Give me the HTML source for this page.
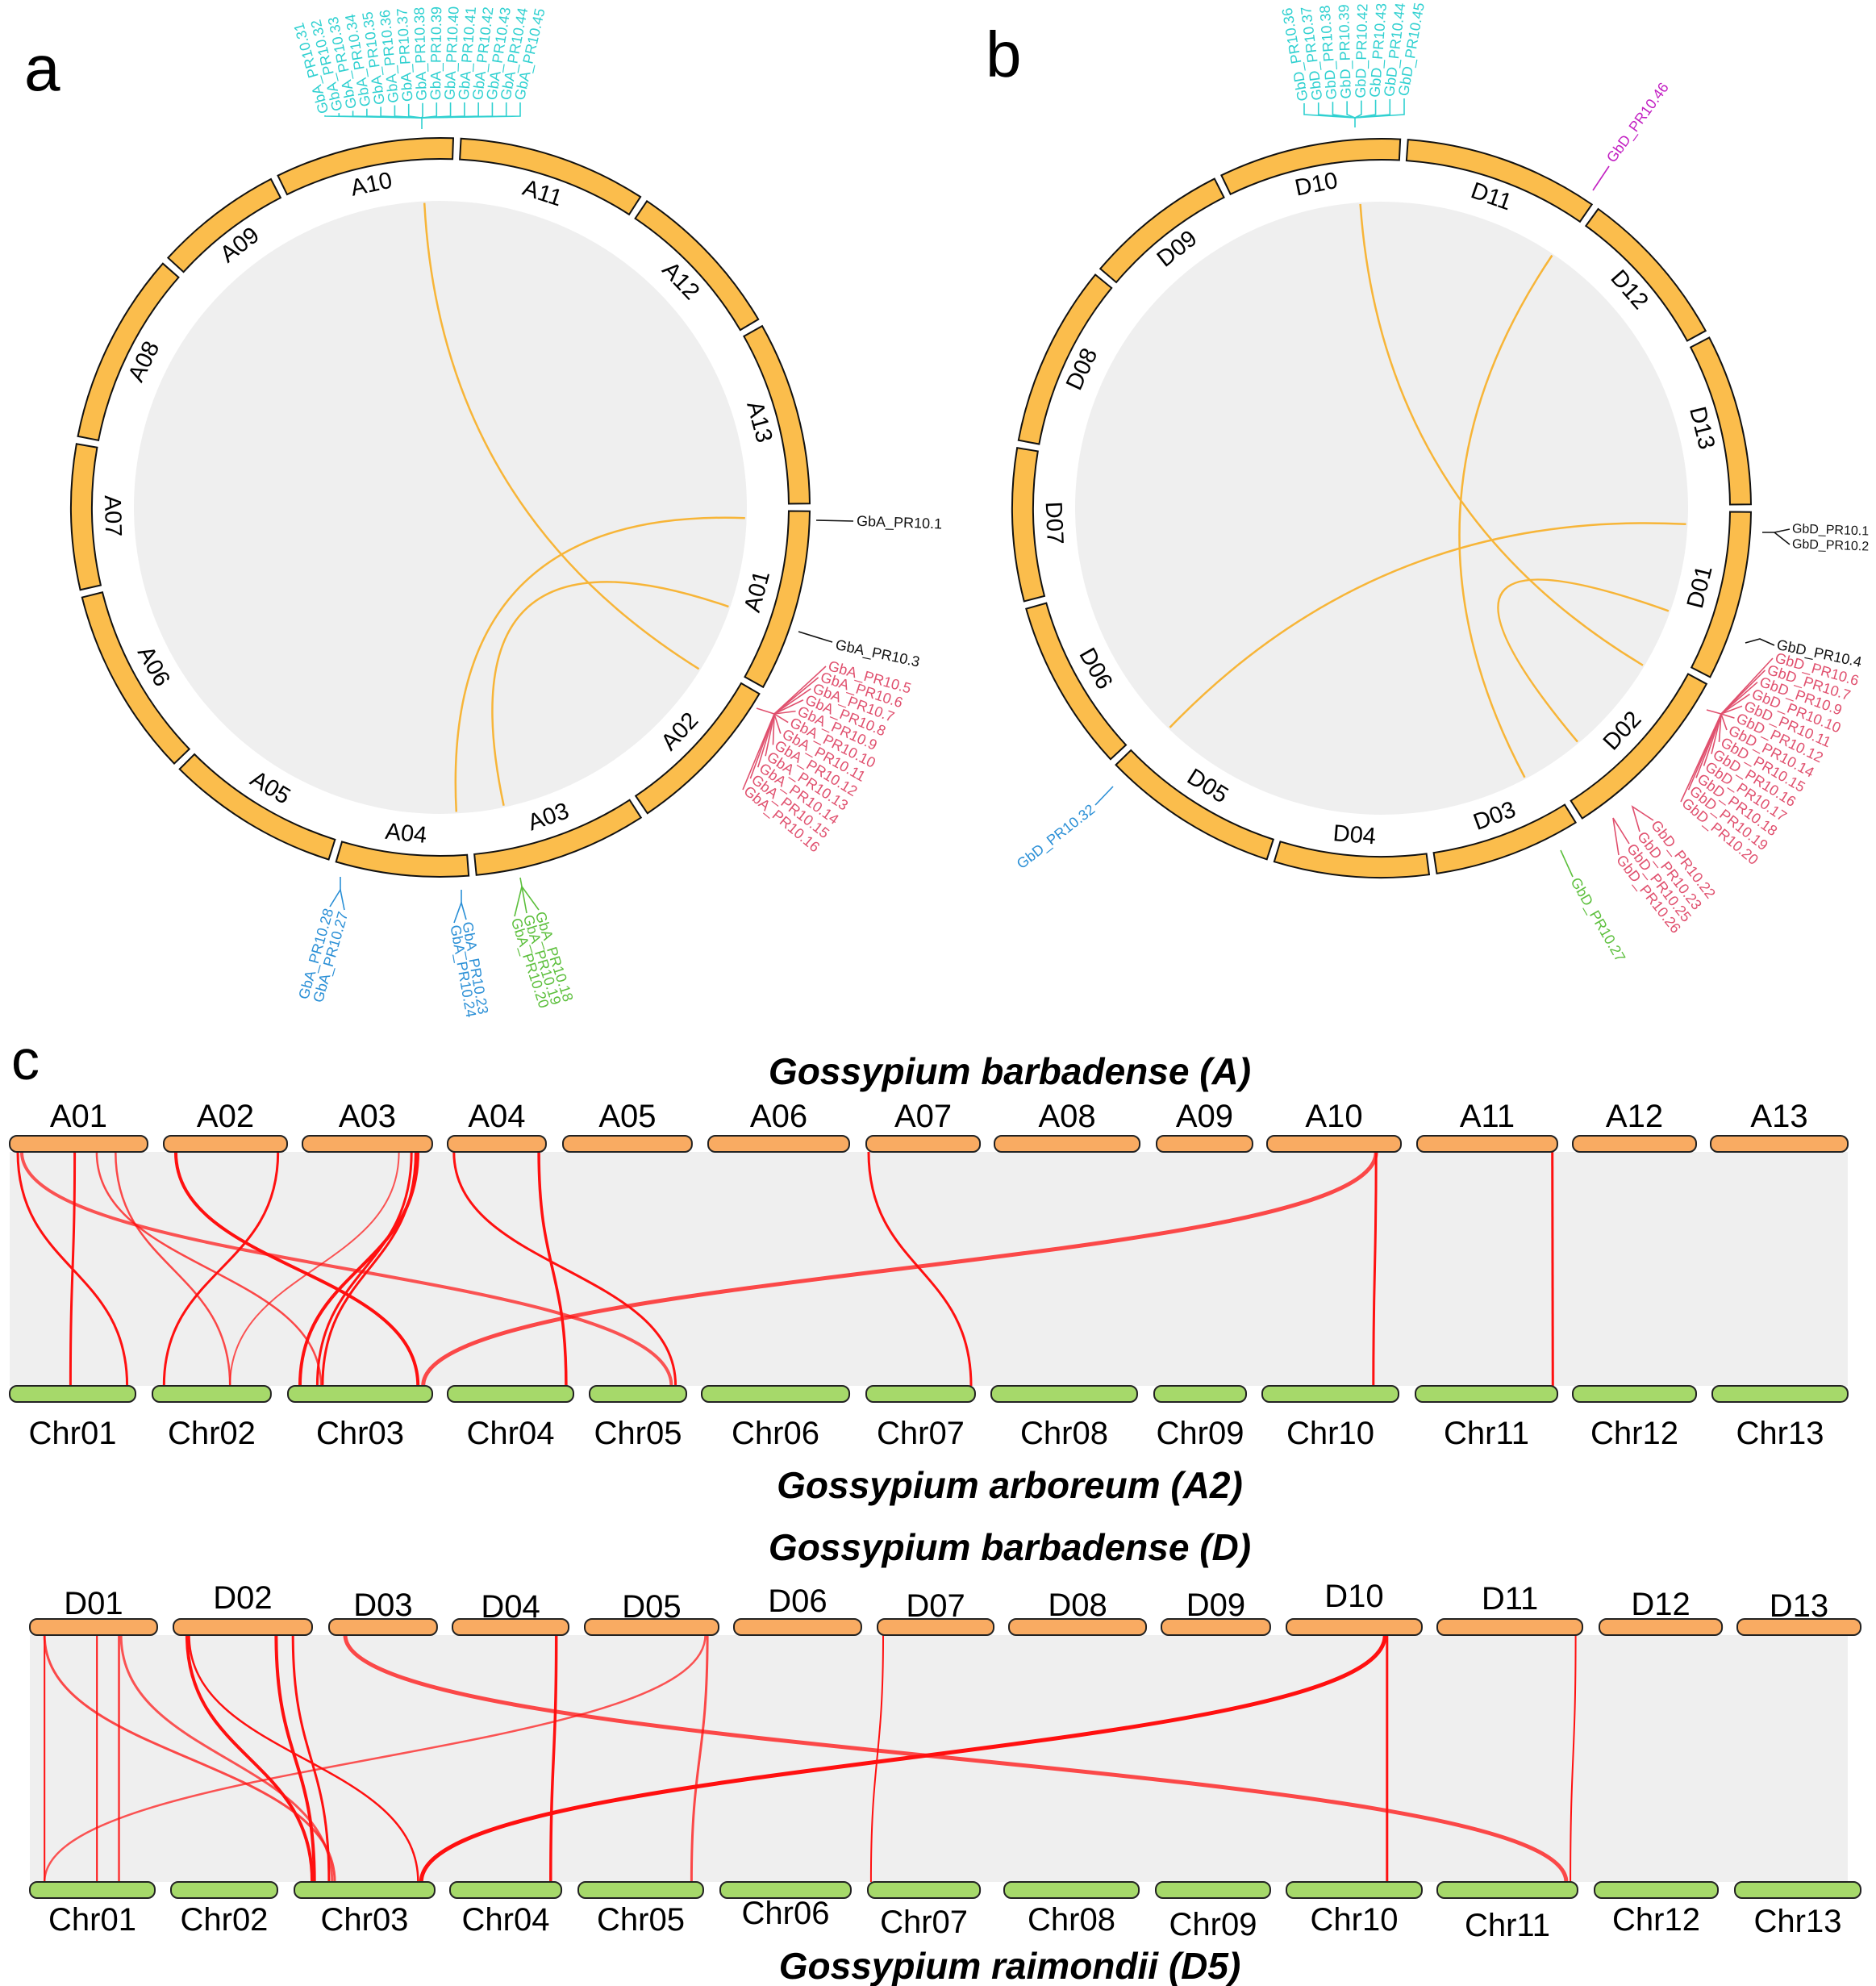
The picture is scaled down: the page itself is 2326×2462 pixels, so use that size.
<!DOCTYPE html>
<html><head><meta charset="utf-8"><style>
html,body{margin:0;padding:0;background:#fff;}
svg{display:block;font-family:"Liberation Sans",Arial,sans-serif;}
</style></head><body>
<svg id="fig" width="2326" height="2462" viewBox="0 0 2326 2462" xmlns="http://www.w3.org/2000/svg">
<rect width="2326" height="2462" fill="#fff"/>
<text x="30" y="112" font-size="80">a</text>
<text x="1222" y="95" font-size="80">b</text>
<text x="14" y="1338" font-size="70">c</text>
<g id="genes" font-size="18"></g>
</svg>
<script>
const NS='http://www.w3.org/2000/svg';
const svg=document.getElementById('fig');
const genes=document.getElementById('genes');
function mk(tag,attrs,parent){const e=document.createElementNS(NS,tag);for(const k in attrs)e.setAttribute(k,attrs[k]);(parent||svg).appendChild(e);return e;}

/* ---------- circle data ---------- */
const chrNamesA=['A01','A02','A03','A04','A05','A06','A07','A08','A09','A10','A11','A12','A13'];
const chrBoundsA=[0,29.7,56.5,85,107,135.5,166.5,190.5,221.9,243.3,272.6,303.4,330,360];
const linksA=[[267,32],[2,87],[19,78]];
const chrNamesB=['D01','D02','D03','D04','D05','D06','D07','D08','D09','D10','D11','D12','D13'];
const chrBoundsB=[0,27.8,57.7,82,107.5,136.6,164.8,190,219.8,243.7,273.5,305.3,331.9,360];
const linksB=[[266,31],[304,62],[3,134],[19.7,50]];

function P(cx,cy,r,a){const t=a*Math.PI/180;return [cx+r*Math.cos(t),cy+r*Math.sin(t)];}
function drawCircle(cx,cy,names,bounds,links,tag){
  const g=mk('g',{});
  
  
  const disc=mk('circle',{cx:cx,cy:cy,r:380,fill:'#efefef'},g);
  
  
  links.forEach((l,i)=>{
    const p1=P(cx,cy,378,l[0]),p2=P(cx,cy,378,l[1]);
    const p=mk('path',{d:`M${p1[0]},${p1[1]} Q${cx},${cy} ${p2[0]},${p2[1]}`,fill:'none',stroke:'#f7b538','stroke-width':2.5},g);
    
    
  });
  const ro=458,ri=432;
  names.forEach((n,i)=>{
    const a0=bounds[i]+0.6,a1=bounds[i+1]-0.6;
    const lg=(a1-a0)>180?1:0;
    const o0=P(cx,cy,ro,a0),o1=P(cx,cy,ro,a1),i1=P(cx,cy,ri,a1),i0=P(cx,cy,ri,a0);
    const s=mk('path',{d:`M${o0} A${ro},${ro} 0 ${lg} 1 ${o1} L${i1} A${ri},${ri} 0 ${lg} 0 ${i0} Z`,fill:'#fbbd4c',stroke:'#111','stroke-width':2},g);
    
    
    const am=(a0+a1)/2,lp=P(cx,cy,408,am);
    const rot=am<180?am-90:am+90;
    const t=mk('text',{x:lp[0],y:lp[1],'font-size':29,'text-anchor':'middle','dominant-baseline':'middle',transform:`rotate(${rot} ${lp[0]} ${lp[1]})`},g);
    t.textContent=n;
    
    
  });
}
drawCircle(546,629,chrNamesA,chrBoundsA,linksA,'a');
drawCircle(1713,630,chrNamesB,chrBoundsB,linksB,'b');

/* ---------- gene labels ---------- */
function gtext(x,y,rot,txt,color,anchor){
  const t=mk('text',{x:x,y:y,fill:color,'text-anchor':anchor||'start','dominant-baseline':'middle',transform:`rotate(${rot} ${x} ${y})`},genes);
  t.textContent=txt;
  
  
  return t;
}
function gline(pts,color){
  const l=mk('polyline',{points:pts.map(p=>p.join(',')).join(' '),fill:'none',stroke:color,'stroke-width':1.6},genes);
  
  
}
/* a: cyan top */
const cyanA=['31','32','33','34','35','36','37','38','39','40','41','42','43','44','45'];
cyanA.forEach((s,i)=>{const f=i/(cyanA.length-1);const x=403+f*242;const y=140-16*Math.sin(Math.PI*Math.min(f*1.6,1)/2);
  gtext(x,y,-106+29*f,'GbA_PR10.'+s,'#2fd0d0');gline([[x,y+3],[x,144],[523,146]],'#2fd0d0');});
gline([[523,146],[523,160]],'#2fd0d0');
/* a: red */
const redA=['5','6','7','8','9','10','11','12','13','14','15','16'];
redA.forEach((s,i)=>{const f=i/(redA.length-1);const x=1024-103*f,y=826+153*f;
  gtext(x+3,y,16+24*f,'GbA_PR10.'+s,'#e0506e');gline([[x,y],[960,885]],'#e0506e');});
gline([[960,885],[938,878]],'#e0506e');
gtext(1062,647,2,'GbA_PR10.1','#111');gline([[1012,645],[1058,646]],'#111');
gtext(1036,800,12,'GbA_PR10.3','#111');gline([[990,783],[1032,796]],'#111');
/* a: blue/green bottom */
gtext(409,1127,-74,'GbA_PR10.28','#2a8fd6','end');gtext(427,1131,-74,'GbA_PR10.27','#2a8fd6','end');
gline([[409,1124],[422,1103],[427,1128]],'#2a8fd6');gline([[422,1103],[422,1087]],'#2a8fd6');
gtext(578,1143,80,'GbA_PR10.23','#2a8fd6');gtext(563,1147,80,'GbA_PR10.24','#2a8fd6');
gline([[563,1144],[572,1119],[578,1140]],'#2a8fd6');gline([[572,1119],[572,1103]],'#2a8fd6');
gtext(668,1131,72,'GbA_PR10.18','#5cbf3c');gtext(653,1135,72,'GbA_PR10.19','#5cbf3c');gtext(638,1139,72,'GbA_PR10.20','#5cbf3c');
gline([[638,1136],[647,1099],[668,1128]],'#5cbf3c');gline([[653,1132],[647,1099]],'#5cbf3c');gline([[647,1099],[645,1088]],'#5cbf3c');
/* b: cyan top */
const cyanB=['36','37','38','39','42','43','44','45'];
cyanB.forEach((s,i)=>{const f=i/(cyanB.length-1);const x=1617+f*124;const y=125-6*f;
  gtext(x,y,-100+20*f,'GbD_PR10.'+s,'#2fd0d0');gline([[x,y+3],[x,142],[1680,146]],'#2fd0d0');});
gline([[1680,146],[1680,158]],'#2fd0d0');
gtext(1997,200,-54,'GbD_PR10.46','#c21fc2');gline([[1975,236],[1995,206]],'#c21fc2');
gtext(2222,656,2,'GbD_PR10.1','#111').setAttribute('font-size','16');
gtext(2222,675,2,'GbD_PR10.2','#111').setAttribute('font-size','16');
gline([[2185,660],[2200,660],[2219,656]],'#111');gline([[2200,660],[2219,675]],'#111');
gtext(2203,800,12,'GbD_PR10.4','#111');gline([[2164,797],[2182,792],[2200,800]],'#111');
const redB=['6','7','9','10','11','12','14','15','16','17','18','19','20'];
redB.forEach((s,i)=>{const f=i/(redB.length-1);const x=2198-114*f,y=816+178*f;
  gtext(x+3,y,16+24*f,'GbD_PR10.'+s,'#e0506e');gline([[x,y],[2134,885]],'#e0506e');});
gline([[2134,885],[2116,880]],'#e0506e');
[['22',2050,1020],['23',2033,1034],['25',2020,1049],['26',2007,1063]].forEach(d=>gtext(d[1],d[2],52,'GbD_PR10.'+d[0],'#e0506e'));
gline([[2050,1017],[2024,1000],[2033,1031]],'#e0506e');gline([[2020,1046],[2000,1014],[2007,1060]],'#e0506e');
gtext(1951,1090,60,'GbD_PR10.27','#5cbf3c');gline([[1935,1054],[1950,1087]],'#5cbf3c');
gtext(1356,1002,-38,'GbD_PR10.32','#2a8fd6','end');gline([[1358,998],[1380,975]],'#2a8fd6');

/* ---------- synteny panel data ---------- */
const namesAtop=['A01','A02','A03','A04','A05','A06','A07','A08','A09','A10','A11','A12','A13'];
const lenAtop=[131.5,117.7,123.8,93.8,123,134.6,108.5,138.5,91.5,127.7,133.8,117.7,130.8];
const namesAbot=['Chr01','Chr02','Chr03','Chr04','Chr05','Chr06','Chr07','Chr08','Chr09','Chr10','Chr11','Chr12','Chr13'];
const lenAbot=[120,113,137.7,120,92.3,140.8,103.8,139.2,87.7,130,135.4,117.7,129.2];
const linksAsyn=[[0,7.7,0,112],[0,62,0,58],[0,11.5,4,78],[0,83,2,31.5],[0,101,1,74],[1,11.5,2,124],[1,109,1,11],[2,92,1,74],[2,104,2,28],[2,110,2,11.5],[2,108,2,33],[3,6,4,82],[3,87,3,113],[6,2.3,6,100],[9,104,2,129],[9,104,9,106],[10,129,10,131]];
const namesDtop=['D01','D02','D03','D04','D05','D06','D07','D08','D09','D10','D11','D12','D13'];
const lenDtop=[121.5,132.3,103,110.8,127.7,121.5,110.8,130.8,103.8,129.2,138.5,117,117.7];
const namesDbot=['Chr01','Chr02','Chr03','Chr04','Chr05','Chr06','Chr07','Chr08','Chr09','Chr10','Chr11','Chr12','Chr13'];
const lenDbot=[119.2,101.5,133.8,106.2,119.2,124.6,107,128.5,109.2,129.2,133.8,117.7,120];
const linksDsyn=[[0,14,0,14],[0,64,0,64],[0,85,0,85],[0,14,2,38.5],[0,87,2,36],[1,13,2,17],[1,15,2,118],[1,98,2,19],[1,114,2,33],[2,15.4,10,123],[4,117,4,108],[4,115,0,14],[3,99,3,96],[6,5.4,6,3],[9,94,2,121],[9,96,9,96],[10,132,10,127]];

/* layout (not data) */
const PXMB=1.3;
const startAtop=[12,203,375,555,698,878,1074,1233,1434,1571,1757,1950,2121];
const startAbot=[12,189,357,555,731,870,1074,1229,1431,1565,1755,1950,2123];
const startDtop=[37,215,408,561,725,910,1088,1251,1440,1595,1782,1983,2154];
const startDbot=[37,212,365,558,717,893,1076,1245,1433,1595,1782,1977,2151];
const wA=[3,3,4,2.5,2.5,4,3,2,3,4,3,3,3.5,3,5,3,3];
const oA=[1,1,.7,.75,.75,1,1,.7,1,1,1,1,1,1,.75,1,1];
const wD=[2,2,3,3,3,4,2.5,4,3,5,3,2.5,3.5,2,5,3,2];
const oD=[1,1,.7,.75,.7,1,1,1,1,.75,.75,.7,1,1,1,1,1];
const labYDtop=[2001,1994,2003,2005,2005,1998,2004,2003,2003,1992,1995,2002,2004];
const labYDbot=[2393,2393,2393,2393,2393,2385,2396,2393,2399,2393,2400,2393,2395];

function drawSyn(tag,nT,lT,sT,nB,lB,sB,links,ws,os,yT,yB,labT,labB,tTitle,bTitle,tY,bY){
  const g=mk('g',{});
  
  
  const bg=mk('rect',{x:Math.min(sT[0],sB[0]),y:yT+20,width:2291-Math.min(sT[0],sB[0]),height:yB-yT-20,fill:'#efefef'},g);
  
  
  links.forEach((l,i)=>{
    const x1=sT[l[0]]+l[1]*PXMB,x2=sB[l[2]]+l[3]*PXMB,y1=yT+20,y2=yB,m=(y1+y2)/2;
    const p=mk('path',{d:`M${x1},${y1} C${x1},${m} ${x2},${m} ${x2},${y2}`,fill:'none',stroke:'#ff1010','stroke-width':ws[i],'stroke-opacity':os[i]},g);
    
    
  });
  nT.forEach((n,i)=>{
    const w=lT[i]*PXMB;
    const r=mk('rect',{x:sT[i],y:yT,width:w,height:20,rx:9,fill:'#f9ab62',stroke:'#222','stroke-width':2},g);
    
    
    const t=mk('text',{x:sT[i]+w/2,y:Array.isArray(labT)?labT[i]:labT,'font-size':40,'text-anchor':'middle'},g);
    t.textContent=n;
    
    
  });
  nB.forEach((n,i)=>{
    const w=lB[i]*PXMB;
    const r=mk('rect',{x:sB[i],y:yB,width:w,height:20,rx:9,fill:'#a6d96a',stroke:'#222','stroke-width':2},g);
    
    
    const t=mk('text',{x:sB[i]+w/2,y:Array.isArray(labB)?labB[i]:labB,'font-size':40,'text-anchor':'middle'},g);
    t.textContent=n;
    
    
  });
  const t1=mk('text',{x:1252,y:tY,'font-size':46,'font-weight':'bold','font-style':'italic','text-anchor':'middle'},g);
  t1.textContent=tTitle;
  
  
  const t2=mk('text',{x:1252,y:bY,'font-size':46,'font-weight':'bold','font-style':'italic','text-anchor':'middle'},g);
  t2.textContent=bTitle;
  
  
}
drawSyn('A',namesAtop,lenAtop,startAtop,namesAbot,lenAbot,startAbot,linksAsyn,wA,oA,1408,1718,1397,1790,'Gossypium barbadense (A)','Gossypium arboreum (A2)',1344,1857);
drawSyn('D',namesDtop,lenDtop,startDtop,namesDbot,lenDbot,startDbot,linksDsyn,wD,oD,2007,2333,labYDtop,labYDbot,'Gossypium barbadense (D)','Gossypium raimondii (D5)',1934,2453);
</script>
</body></html>
